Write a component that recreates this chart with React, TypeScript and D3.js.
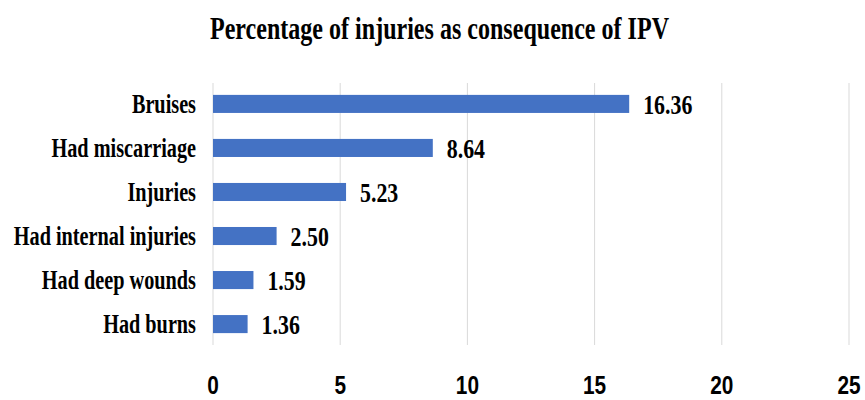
import * as d3 from "d3";

const categories = [
  "Bruises",
  "Had miscarriage",
  "Injuries",
  "Had internal injuries",
  "Had deep wounds",
  "Had burns",
];
const values = [16.36, 8.64, 5.23, 2.5, 1.59, 1.36];
const ticks = [0, 5, 10, 15, 20, 25];

const W = 865;
const H = 400;
const serif = "'Liberation Serif', 'Times New Roman', serif";
const sans = "'Liberation Sans', Arial, sans-serif";

export default function App() {
  const x = d3.scaleLinear().domain([0, 25]).range([213, 849]);
  const y = d3
    .scaleBand<string>()
    .domain(categories)
    .range([83, 345])
    .paddingInner(0.59)
    .paddingOuter(0.27);

  return (
    <svg
      width={W}
      height={H}
      style={{ position: "absolute", left: 0, top: 0, background: "white" }}
    >
      {/* title */}
      <text
        x={210}
        y={39}
        textLength={459}
        lengthAdjust="spacingAndGlyphs"
        fontFamily={serif}
        fontWeight="bold"
        fontSize={31}
        fill="#000"
      >
        Percentage of injuries as consequence of IPV
      </text>

      {/* gridlines */}
      {ticks.map((t) => (
        <line
          key={t}
          x1={x(t)}
          x2={x(t)}
          y1={83}
          y2={345}
          stroke="#d9d9d9"
          strokeWidth={1}
        />
      ))}

      {/* bars */}
      {categories.map((c, i) => (
        <rect
          key={c}
          x={x(0)}
          y={y(c)}
          width={x(values[i]) - x(0)}
          height={y.bandwidth()}
          fill="#4472C4"
        />
      ))}

      {/* category labels */}
      {categories.map((c) => (
        <text
          key={c}
          transform={`translate(196,${(y(c) ?? 0) + y.bandwidth() / 2 + 9}) scale(0.75,1)`}
          textAnchor="end"
          fontFamily={serif}
          fontWeight="bold"
          fontSize={27}
          fill="#000"
        >
          {c}
        </text>
      ))}

      {/* value labels */}
      {categories.map((c, i) => (
        <text
          key={c}
          transform={`translate(${x(values[i]) + 14},${(y(c) ?? 0) + y.bandwidth() / 2 + 10}) scale(0.81,1)`}
          fontFamily={serif}
          fontWeight="bold"
          fontSize={27}
          fill="#000"
        >
          {values[i].toFixed(2)}
        </text>
      ))}

      {/* x tick labels */}
      {ticks.map((t) => (
        <text
          key={t}
          transform={`translate(${x(t)},394) scale(0.8,1)`}
          textAnchor="middle"
          fontFamily={sans}
          fontWeight="bold"
          fontSize={26}
          fill="#000"
        >
          {t}
        </text>
      ))}
    </svg>
  );
}
